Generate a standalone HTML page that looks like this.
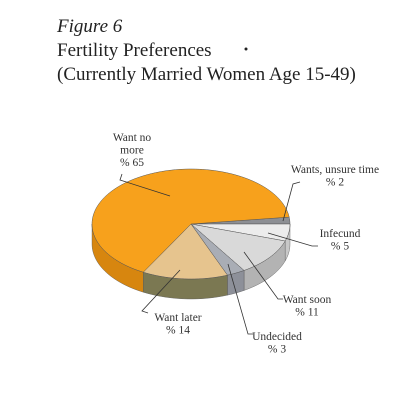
<!DOCTYPE html>
<html><head><meta charset="utf-8"><style>
html,body{margin:0;padding:0;background:#fff;}
svg{display:block;font-family:"Liberation Serif",serif;}
</style></head><body>
<svg width="402" height="406" viewBox="0 0 402 406">
<text x="57" y="32" font-size="19" font-style="italic" fill="#222">Figure 6</text>
<text x="57" y="56" font-size="19" fill="#222">Fertility Preferences</text>
<circle cx="246" cy="49" r="1.5" fill="#222"/>
<text x="57" y="80" font-size="19" fill="#222">(Currently Married Women Age 15-49)</text>
<g id="pie"></g>
<g id="labels" font-size="11.5" fill="#333" text-anchor="middle"></g>
</svg>
<script>
const categories=["Wants, unsure time","Infecund","Want soon","Undecided","Want later","Want no more"];
const values=[2,5,11,3,14,65];
const topColors=["#8d8f94","#ececec","#d9d9d9","#a9adb5","#e6c48e","#f7a11c"];
const sideColors=["#77797e","#c8c8c8","#b3b3b3","#8d9099","#7b7852","#d7860f"];
const cx=191,cy=224,rx=99,ry=55,depth=20,startDeg=-7.2;
const NS="http://www.w3.org/2000/svg";
const pie=document.getElementById('pie');
function pt(a,dy){const r=a*Math.PI/180;return [cx+rx*Math.cos(r),cy+ry*Math.sin(r)+(dy||0)];}
function arc(a0,a1,dy){let s="";const n=Math.max(2,Math.ceil(Math.abs(a1-a0)/2));for(let i=0;i<=n;i++){const p=pt(a0+(a1-a0)*i/n,dy);s+=(i?"L":"")+p[0].toFixed(2)+","+p[1].toFixed(2);}return s;}
const total=values.reduce((a,b)=>a+b,0);
let a=startDeg;const angles=values.map(v=>{const a0=a;a+=v/total*360;return [a0,a];});
angles.forEach(([a0,a1],i)=>{
  const s=Math.max(a0,0),e=Math.min(a1,180);
  if(e<=s)return;
  const p=document.createElementNS(NS,'path');
  const back=pt(e,depth);
  p.setAttribute('d',"M"+arc(s,e,0)+"L"+back[0]+","+back[1]+"L"+arc(e,s,depth)+"Z");
  p.setAttribute('fill',sideColors[i]);p.setAttribute('stroke','#555');p.setAttribute('stroke-width','0.4');
  
  
  pie.appendChild(p);
});
angles.forEach(([a0,a1],i)=>{
  const p=document.createElementNS(NS,'path');
  p.setAttribute('d',"M"+cx+","+cy+"L"+arc(a0,a1,0)+"Z");
  p.setAttribute('fill',topColors[i]);p.setAttribute('stroke','#555');p.setAttribute('stroke-width','0.5');
  
  
  pie.appendChild(p);
});
const lab=document.getElementById('labels');
const labelDefs=[
 {lines:["Wants,  unsure time","% "+values[0]],x:335,y:173,lx:[[300,182],[293,184],[283,221]]},
 {lines:["Infecund","% "+values[1]],x:340,y:237,lx:[[318,246],[312,246],[268,233]]},
 {lines:["Want soon","% "+values[2]],x:307,y:303,lx:[[283,299],[278,299],[244,252]]},
 {lines:["Undecided","% "+values[3]],x:277,y:340,lx:[[253,334],[248,334],[228,264]]},
 {lines:["Want later","% "+values[4]],x:178,y:321,lx:[[148,313],[142,311],[180,270]]},
 {lines:["Want no","more","% "+values[5]],x:132,y:141,lx:[[122,174],[120,180],[170,196]]}
];
labelDefs.forEach((d,i)=>{
  const pl=document.createElementNS(NS,'polyline');
  pl.setAttribute('points',d.lx.map(q=>q.join(',')).join(' '));
  pl.setAttribute('fill','none');pl.setAttribute('stroke','#333');pl.setAttribute('stroke-width','0.8');
  lab.appendChild(pl);
  const t=document.createElementNS(NS,'text');
  
  
  d.lines.forEach((ln,j)=>{const ts=document.createElementNS(NS,'tspan');ts.setAttribute('x',d.x);ts.setAttribute('y',d.y+j*12.5);ts.textContent=ln;t.appendChild(ts);});
  lab.appendChild(t);
});
</script>
</body></html>
